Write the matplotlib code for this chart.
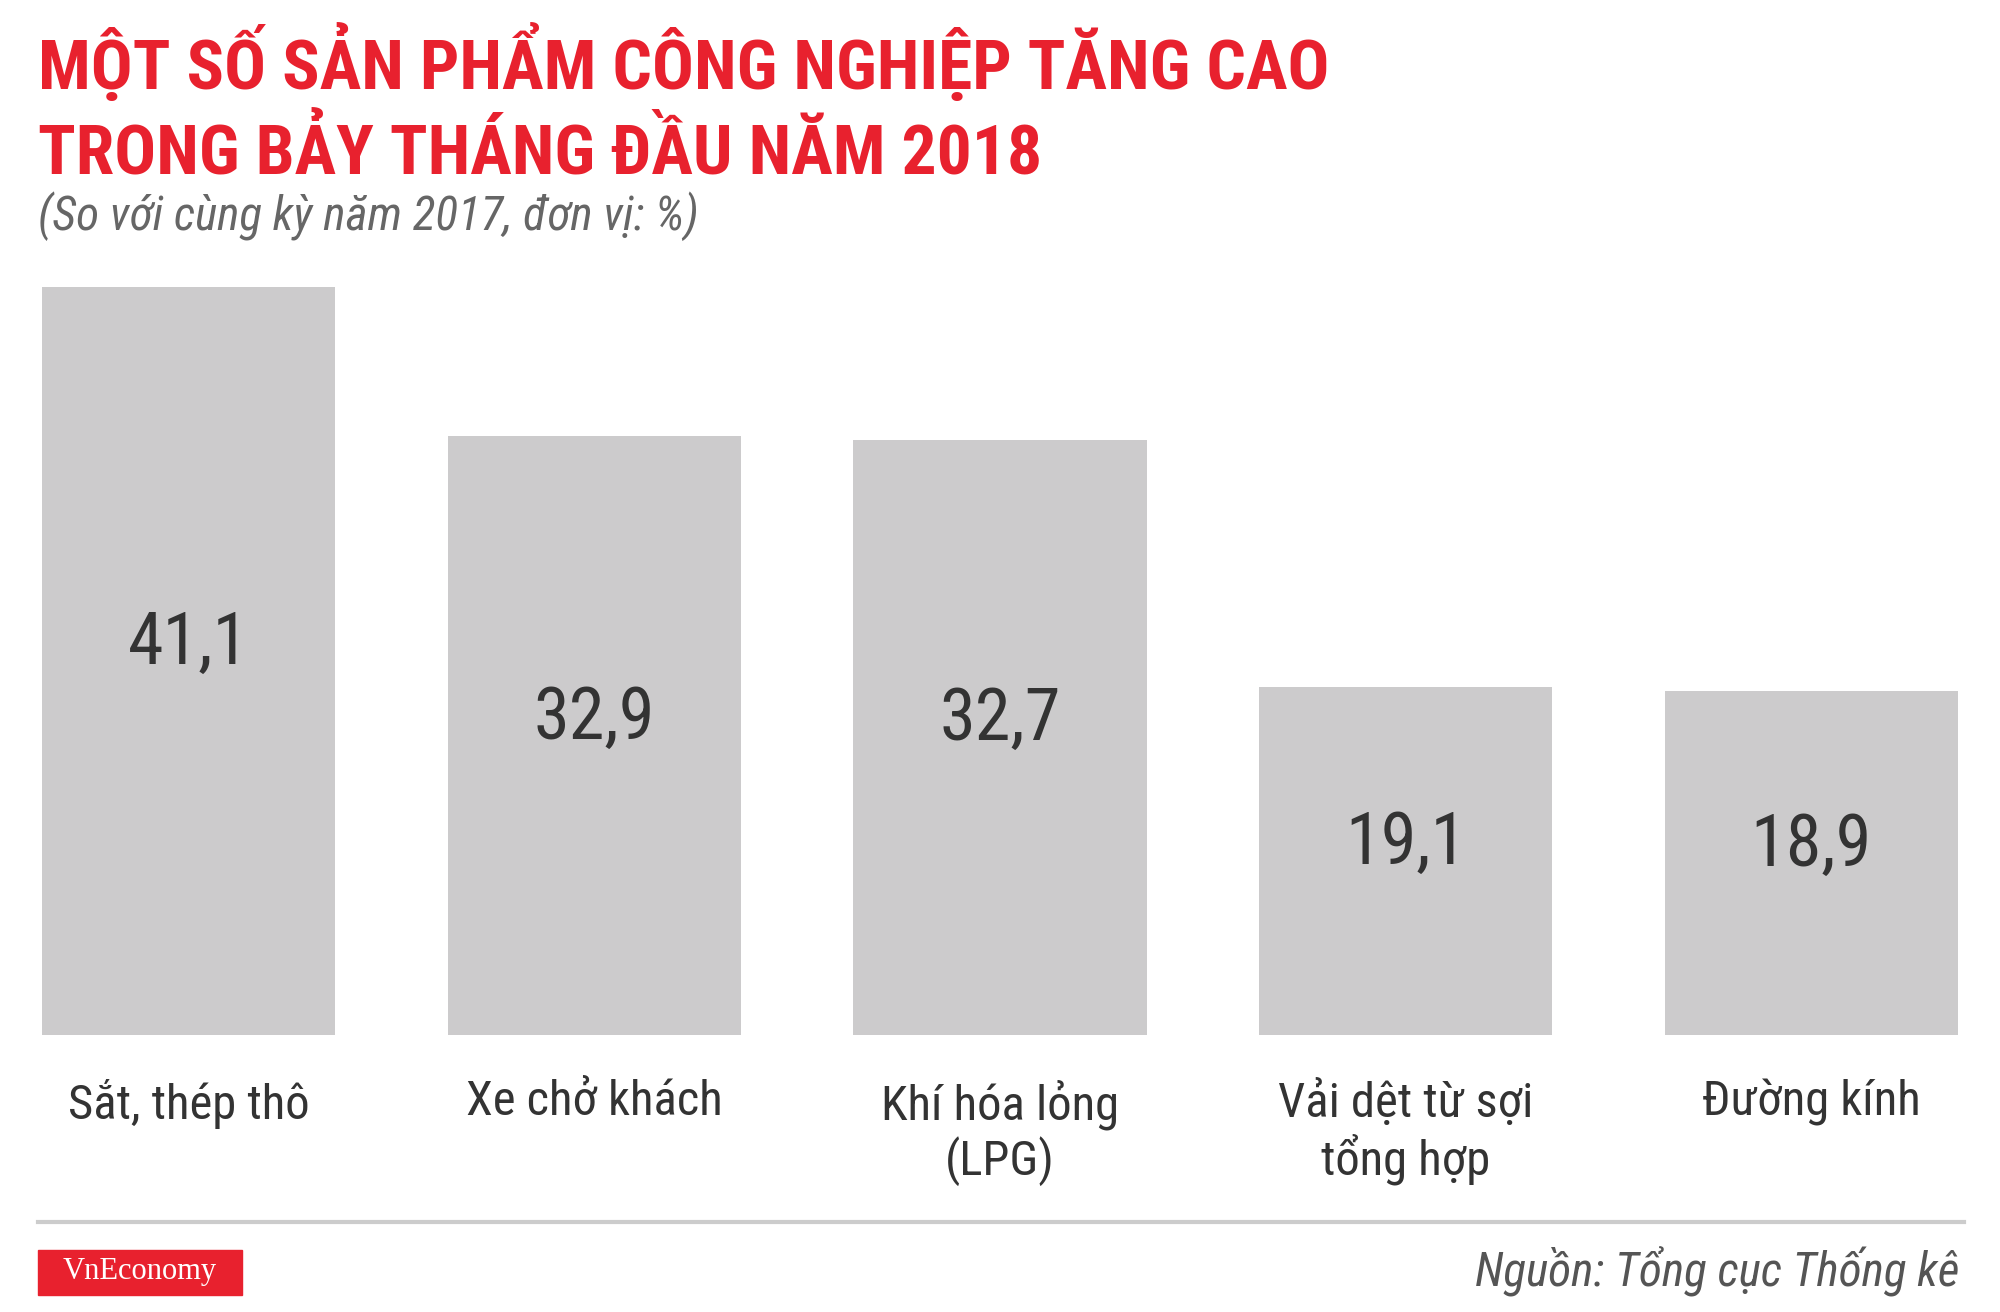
import matplotlib
matplotlib.use("Agg")
import matplotlib.pyplot as plt
from matplotlib import font_manager
from matplotlib.patches import Rectangle

# dữ liệu
categories = ["Sắt, thép thô", "Xe chở khách", "Khí hóa lỏng\n(LPG)",
              "Vải dệt từ sợi\ntổng hợp", "Đường kính"]
values = [41.1, 32.9, 32.7, 19.1, 18.9]
value_labels = ["41,1", "32,9", "32,7", "19,1", "18,9"]

title = "MỘT SỐ SẢN PHẨM CÔNG NGHIỆP TĂNG CAO\nTRONG BẢY THÁNG ĐẦU NĂM 2018"
subtitle = "(So với cùng kỳ năm 2017, đơn vị: %)"
source = "Nguồn: Tổng cục Thống kê"
brand = "VnEconomy"

RED = "#e8212e"
BAR = "#cccbcc"
DARK = "#333333"

names = {f.name for f in font_manager.fontManager.ttflist}
narrow = next((n for n in ("Roboto Condensed", "Liberation Sans Narrow",
                           "DejaVu Sans Condensed") if n in names), "Roboto")
fam = [narrow, "DejaVu Sans"]

W, H = 2000, 1312
fig = plt.figure(figsize=(W / 100, H / 100), dpi=100)
fig.patch.set_facecolor("white")


def fy(px):
    return 1 - px / H


# barres
ax = fig.add_axes([42 / W, fy(1034.5), (1958 - 42) / W, (1034.5 - 287) / H])
x = range(len(values))
ax.bar(x, values, width=0.723, color=BAR, edgecolor="none")
ax.set_xlim(-0.3615, len(values) - 1 + 0.3615)
ax.set_ylim(0, max(values))
ax.axis("off")

for i, v in enumerate(values):
    ax.text(i, v * 0.5 + 0.9, value_labels[i], ha="center", va="center",
            fontsize=52, color=DARK, family=fam)

for i, c in enumerate(categories):
    ax.text(i, -0.060, c, transform=ax.get_xaxis_transform(), ha="center",
            va="top", fontsize=35, color=DARK, linespacing=1.15, family=fam)

# titres
line1, line2 = title.split("\n")
fig.text(38 / W, fy(89), line1, ha="left", va="baseline",
         fontsize=50, fontweight="bold", color=RED, family=fam)
fig.text(38 / W, fy(174), line2, ha="left", va="baseline",
         fontsize=50, fontweight="bold", color=RED, family=fam)
fig.text(38 / W, fy(230), subtitle, ha="left", va="baseline", fontsize=34,
         style="italic", color="#666666", family=fam)

# pied
fig.add_artist(plt.Line2D([38 / W, 1964 / W], [fy(1222), fy(1222)],
                          color="#cccccc", lw=3))
fig.add_artist(Rectangle((38 / W, fy(1295)), (242 - 38) / W, 45 / H,
                         color=RED, transform=fig.transFigure))
fig.text(140 / W, fy(1272), brand, ha="center", va="center", fontsize=22,
         color="white", family=["Liberation Serif", "DejaVu Serif"])
fig.text(1959 / W, fy(1286), source, ha="right", va="baseline", fontsize=34,
         style="italic", color="#555555", family=fam)

fig.savefig("out.png", dpi=100, facecolor=fig.get_facecolor())
